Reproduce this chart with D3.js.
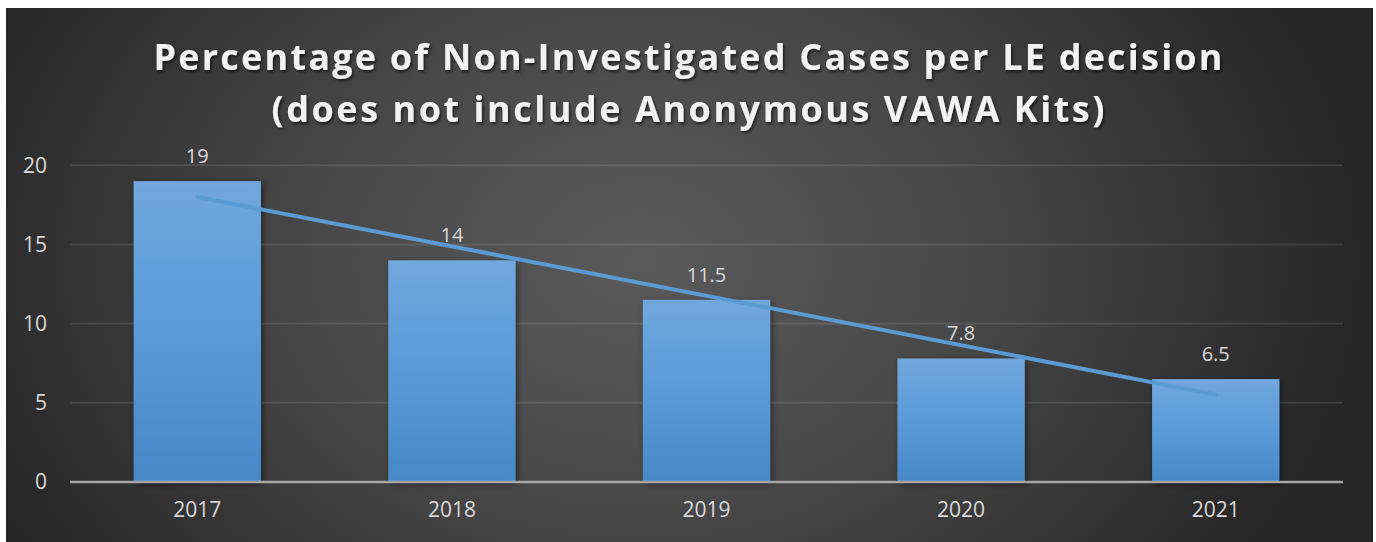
<!DOCTYPE html>
<html><head><meta charset="utf-8">
<script src="https://cdn.jsdelivr.net/npm/d3@7"></script>
<style>html,body{margin:0;padding:0;background:#fff;}svg{display:block;}</style>
</head><body><svg id="c" width="1376" height="542"></svg>
<script>
const categories = ["2017","2018","2019","2020","2021"];
const values = [19, 14, 11.5, 7.8, 6.5];
const valueLabels = ["19","14","11.5","7.8","6.5"];
const yTicks = [0,5,10,15,20];
const titleLines = ["Percentage of Non-Investigated Cases per LE decision","(does not include Anonymous VAWA Kits)"];

const svg = d3.select("#c");
const defs = svg.append("defs");
const rg = defs.append("radialGradient").attr("id","bg").attr("gradientUnits","userSpaceOnUse")
  .attr("cx",640).attr("cy",260).attr("r",720).attr("gradientTransform","translate(640,260) scale(1,0.75) translate(-640,-260)");
rg.append("stop").attr("offset","0").attr("stop-color","#5a5a5a");
rg.append("stop").attr("offset","0.45").attr("stop-color","#484848");
rg.append("stop").attr("offset","1").attr("stop-color","#262626");
const bg = defs.append("linearGradient").attr("id","bar").attr("x1",0).attr("y1",0).attr("x2",0).attr("y2",1);
bg.append("stop").attr("offset","0").attr("stop-color","#70a7dd");
bg.append("stop").attr("offset","0.5").attr("stop-color","#5a9ad9");
bg.append("stop").attr("offset","1").attr("stop-color","#4788c7");
const sh = defs.append("filter").attr("id","sh").attr("x","-20%").attr("y","-20%").attr("width","150%").attr("height","150%");
sh.append("feDropShadow").attr("dx",2).attr("dy",2).attr("stdDeviation",3).attr("flood-color","#000").attr("flood-opacity",0.45);
const ts = defs.append("filter").attr("id","ts").attr("x","-5%").attr("y","-20%").attr("width","110%").attr("height","150%");
ts.append("feDropShadow").attr("dx",1.5).attr("dy",2).attr("stdDeviation",1.5).attr("flood-color","#000").attr("flood-opacity",0.6);

svg.append("rect").attr("x",6).attr("y",8).attr("width",1367).attr("height",534).attr("fill","url(#bg)");

const m = {l:70, r:1343, t:165.3, b:482};
const x = d3.scaleBand().domain(categories).range([m.l, m.r]).paddingInner(0.5).paddingOuter(0.25);
const y = d3.scaleLinear().domain([0,20]).range([m.b, m.t]);

// gridlines
svg.append("g").selectAll("line").data(yTicks.filter(d=>d>0)).join("line")
  .attr("x1",m.l).attr("x2",m.r).attr("y1",d=>y(d)).attr("y2",d=>y(d))
  .attr("stroke","#ffffff").attr("stroke-opacity",0.1).attr("stroke-width",2);

// y axis labels
const yAxis = d3.axisLeft(y).tickValues(yTicks).tickSize(0).tickPadding(23);
const gy = svg.append("g").attr("transform",`translate(${m.l},0)`).call(yAxis);
gy.select(".domain").remove();
gy.selectAll("text").attr("fill","#d9d9d9").style("font-family","'Open Sans'").style("font-size","21px");

// bars
svg.append("g").selectAll("rect").data(values).join("rect")
  .attr("x",(d,i)=>x(categories[i])).attr("width",x.bandwidth())
  .attr("y",d=>y(d)).attr("height",d=>y(0)-y(d))
  .attr("fill","url(#bar)").attr("filter","url(#sh)");

// x axis
const xAxis = d3.axisBottom(x).tickSize(0).tickPadding(20);
const gx = svg.append("g").attr("transform",`translate(0,${y(0)})`).call(xAxis);
gx.select(".domain").attr("stroke","#a6a6a6").attr("stroke-width",2.5).attr("d",`M${m.l},0H${m.r}`);
gx.selectAll("text").attr("fill","#d9d9d9").style("font-family","'Open Sans'").style("font-size","21px");

// trendline (linear regression)
const n = values.length, xs = values.map((d,i)=>i+1);
const mx = d3.mean(xs), my = d3.mean(values);
const slope = d3.sum(xs.map((xi,i)=>(xi-mx)*(values[i]-my)))/d3.sum(xs.map(xi=>(xi-mx)**2));
const icpt = my - slope*mx;
const cx = c => x(c)+x.bandwidth()/2;
svg.append("line")
  .attr("x1",cx(categories[0])).attr("y1",y(icpt+slope*1))
  .attr("x2",cx(categories[n-1])).attr("y2",y(icpt+slope*n))
  .attr("stroke","#5b9bd5").attr("stroke-width",4).attr("stroke-linecap","round");

// data labels
svg.append("g").selectAll("text").data(values).join("text")
  .attr("x",(d,i)=>cx(categories[i])).attr("y",d=>y(d)-18)
  .attr("text-anchor","middle").attr("fill","#d9d9d9")
  .style("font-family","'Open Sans'").style("font-size","20px")
  .text((d,i)=>valueLabels[i]);

// title
const tl = [{t:titleLines[0], y:69.5, w:1069},{t:titleLines[1], y:121.5, w:833}];
svg.append("g").selectAll("text").data(tl).join("text")
  .attr("x",688).attr("y",d=>d.y).attr("text-anchor","middle")
  .attr("textLength",d=>d.w).attr("lengthAdjust","spacing")
  .attr("fill","#f2f2f2").attr("filter","url(#ts)")
  .style("font-family","'Open Sans'").style("font-weight","bold").style("font-size","36px")
  .text(d=>d.t);
</script></body></html>
